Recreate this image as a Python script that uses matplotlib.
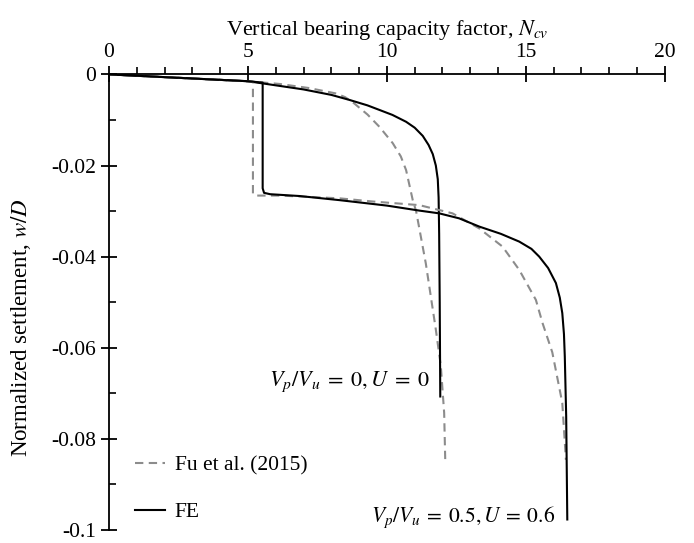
import numpy as np
import matplotlib
matplotlib.use("Agg")
import matplotlib.pyplot as plt
from matplotlib.ticker import MultipleLocator, FuncFormatter

plt.rcParams['font.family'] = ['Liberation Serif', 'DejaVu Serif']
plt.rcParams['mathtext.fontset'] = 'stix'

# FE, Vp/Vu = 0, U = 0
fe1_n = [0, 2, 4, 5, 6, 7, 8, 8.65, 9.3, 9.73, 10.2, 10.69, 11.0, 11.29, 11.5,
         11.65, 11.76, 11.83, 11.86, 11.88, 11.9, 11.92]
fe1_w = [0, -0.0006, -0.0012, -0.0015, -0.0024, -0.0033, -0.0045, -0.0056, -0.0068,
         -0.0078, -0.0089, -0.0104, -0.0117, -0.0135, -0.0155, -0.0175, -0.0200,
         -0.0230, -0.0270, -0.035, -0.050, -0.0707]

# Fu et al. (2015), Vp/Vu = 0, U = 0
fu1_n = [0, 2, 4, 5.2, 6.14, 7.2, 8.18, 8.5, 8.83, 9.3, 9.73, 10.21, 10.5, 10.69,
         10.93, 11.05, 11.4, 11.76, 11.94, 12.06, 12.1]
fu1_w = [0, -0.0006, -0.0012, -0.0016, -0.0021, -0.0030, -0.0042, -0.0050, -0.0064,
         -0.0088, -0.0115, -0.0151, -0.0180, -0.0210, -0.0276, -0.0300, -0.0415,
         -0.056, -0.064, -0.0743, -0.085]

# FE, Vp/Vu = 0.5, U = 0.6
fe2_n = [0, 2, 4, 5, 5.53, 5.53, 5.58, 5.8, 6.86, 8.29, 10, 11.17, 11.88, 12.6, 13.32,
         14.1, 14.76, 15.2, 15.48, 15.8, 16.08, 16.22, 16.31, 16.37, 16.4, 16.45, 16.49]
fe2_w = [0, -0.0006, -0.0012, -0.0015, -0.0018, -0.0250, -0.0260, -0.0263, -0.0267,
         -0.0276, -0.0288, -0.0299, -0.0305, -0.0316, -0.0334, -0.0350, -0.0367,
         -0.0383, -0.0400, -0.0425, -0.0458, -0.0490, -0.0524, -0.0570, -0.0619,
         -0.0750, -0.0977]

# Fu et al. (2015), Vp/Vu = 0.5, U = 0.6
fu2_n = [0, 2, 4, 5.18, 5.18, 5.25, 6.14, 8.29, 9.49, 11.17, 12.36, 13.32, 14.16,
         14.76, 15.36, 15.6, 15.95, 16.31, 16.44]
fu2_w = [0, -0.0006, -0.0012, -0.0016, -0.0262, -0.0266, -0.0266, -0.0272, -0.0279,
         -0.0287, -0.0305, -0.0338, -0.0378, -0.0429, -0.0495, -0.0546, -0.0610,
         -0.0721, -0.0846]

fig = plt.figure(figsize=(6.94, 5.43), dpi=100)
ax = fig.add_axes([0.157, 0.024, 0.801, 0.839])

grey = '#8c8c8c'
dash = (4, 2.6)
ax.plot(fu1_n, fu1_w, color=grey, lw=1.5, dashes=dash, label='Fu et al. (2015)')
ax.plot(fe1_n, fe1_w, color='black', lw=1.5, label='FE')
ax.plot(fu2_n, fu2_w, color=grey, lw=1.5, dashes=dash)
ax.plot(fe2_n, fe2_w, color='black', lw=1.5)

ax.set_xlim(0, 20)
ax.set_ylim(-0.1, 0)

for s in ['right', 'bottom']:
    ax.spines[s].set_visible(False)
for s in ['top', 'left']:
    ax.spines[s].set_linewidth(1.3)

ax.xaxis.tick_top()
ax.xaxis.set_label_position('top')
ax.xaxis.set_major_locator(MultipleLocator(5))
ax.xaxis.set_minor_locator(MultipleLocator(1))
ax.yaxis.set_major_locator(MultipleLocator(0.02))
ax.yaxis.set_minor_locator(MultipleLocator(0.01))
ax.yaxis.set_major_formatter(FuncFormatter(lambda v, p: f"{round(v, 3):g}" if abs(v) > 1e-9 else '0'))

ax.tick_params(axis='both', which='major', direction='inout', length=12, width=1.3,
               labelsize=15.5, pad=3)
ax.tick_params(axis='x', which='minor', direction='out', length=5, width=1.2)
ax.tick_params(axis='y', which='minor', direction='in', length=5, width=1.2)

ax.set_xlabel(r'Vertical bearing capacity factor, $N_{cv}$', fontsize=16, labelpad=6)
ax.set_ylabel(r'Normalized settlement, $w/D$', fontsize=16.5)
ax.yaxis.set_label_coords(-0.137, 0.445)

ax.text(11.53, -0.0675, r'$V_p/V_u\;=\;0, U\;=\;0$', fontsize=16, ha='right', va='center')
ax.text(16.05, -0.0973, r'$V_p/V_u\:=\:0.5, U\:=\:0.6$', fontsize=15.5, ha='right', va='center')

ax.legend(loc='lower left', bbox_to_anchor=(0.047, 0.0165), frameon=False, fontsize=15.5,
          handlelength=1.4, handletextpad=0.45, labelspacing=1.25, borderaxespad=0,
          borderpad=0)

fig.savefig('out.png', dpi=100)
